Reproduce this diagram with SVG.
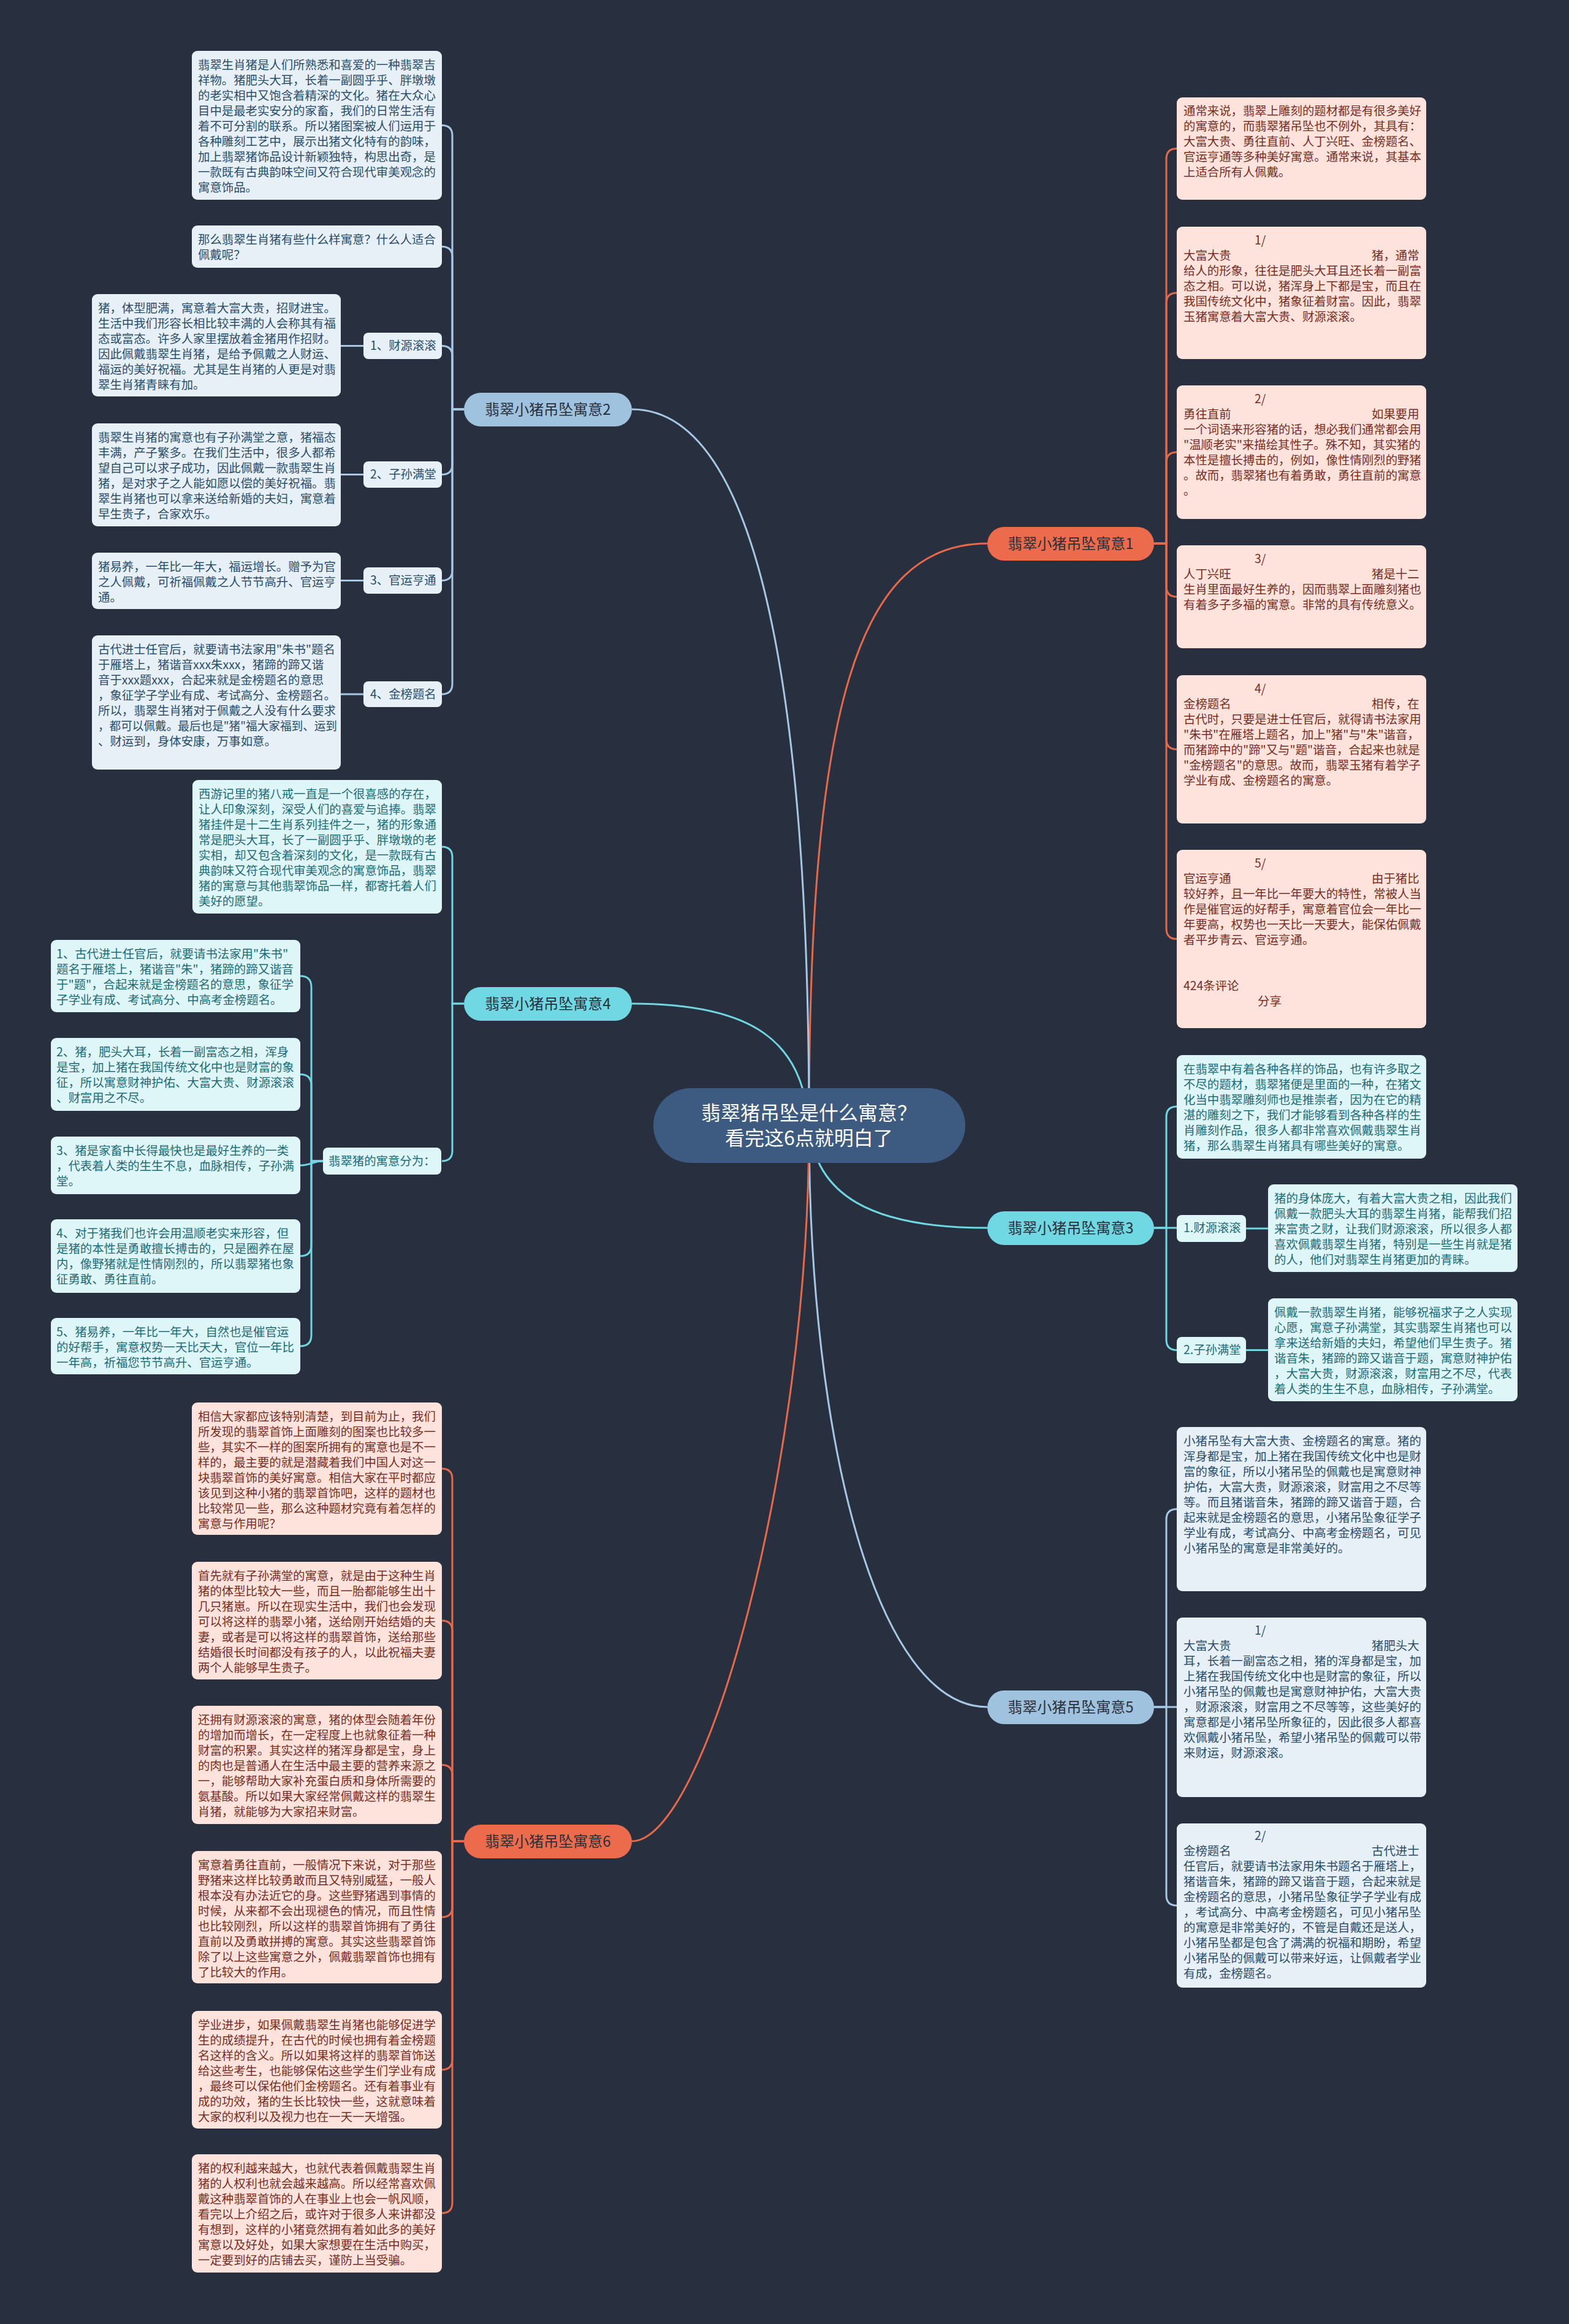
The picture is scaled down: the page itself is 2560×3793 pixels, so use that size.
<svg xmlns="http://www.w3.org/2000/svg" width="2560" height="3793" viewBox="0 0 2560 3793">
<defs>
<style>
text{font-family:"Noto Sans CJK SC","Noto Sans",sans-serif;}
.t{font-size:19.4px;}
.lo{fill:#fde3dc;}
.lc{fill:#dff6f8;}
.lb{fill:#e7f0f7;}
.to{fill:#7a2c1e;}
.tc{fill:#1d6b77;}
.tb{fill:#2a4d6b;}
.bo{fill:#ec6b4c;}
.bc{fill:#6fd8e3;}
.bb{fill:#9fc2df;}
.bt{font-size:24px;fill:#2a2f3a;text-anchor:middle;}
.co{fill:none;stroke:#e8694a;stroke-width:3;}
.cc{fill:none;stroke:#6fd6e2;stroke-width:3;}
.cb{fill:none;stroke:#a6c8e4;stroke-width:3;}
</style>
</defs>
<rect width="2560" height="3793" fill="#283040"/>

<g id="connectors">
<path class="co" d="M1320 1837 C1320 1150 1400 887 1611 887"/>
<path class="cb" d="M1320 1837 C1320 1100 1230 668 1031 668"/>
<path class="cc" d="M1320 1837 C1330 1950 1420 2004 1611 2004"/>
<path class="cc" d="M1320 1837 C1310 1700 1230 1638 1031 1638"/>
<path class="cb" d="M1320 1837 C1320 2350 1430 2786 1611 2786"/>
<path class="co" d="M1320 1837 C1320 2400 1150 3005 1031 3005"/>
<path class="cb" d="M757 668 H738 V221.5 Q738 204.5 721 204.5"/>
<path class="cb" d="M757 668 H738 V419.5 Q738 402.5 721 402.5"/>
<path class="cb" d="M757 668 H738 V581.5 Q738 564.5 721 564.5"/>
<path class="cb" d="M757 668 H738 V757.5 Q738 774.5 721 774.5"/>
<path class="cb" d="M757 668 H738 V930.5 Q738 947.5 721 947.5"/>
<path class="cb" d="M757 668 H738 V1116 Q738 1133 721 1133"/>
<path class="cb" d="M593 564.5 H556"/>
<path class="cb" d="M593 774.5 H556"/>
<path class="cb" d="M593 947.5 H556"/>
<path class="cb" d="M593 1133 H556"/>
<path class="cc" d="M757 1638 H738 V1399 Q738 1382 721 1382"/>
<path class="cc" d="M757 1638 H738 V1878 Q738 1895 721 1895"/>
<path class="cc" d="M527 1895 H508 V1611 Q508 1593 490 1593"/>
<path class="cc" d="M527 1895 H508 V1771.5 Q508 1753.5 490 1753.5"/>
<path class="cc" d="M527 1895 C510 1895 508 1902 490 1902"/>
<path class="cc" d="M527 1895 H508 V2032 Q508 2050 490 2050"/>
<path class="cc" d="M527 1895 H508 V2179 Q508 2197 490 2197"/>
<path class="co" d="M757 3005 H738 V2414 Q738 2397 721 2397"/>
<path class="co" d="M757 3005 H738 V2662 Q738 2645 721 2645"/>
<path class="co" d="M757 3005 H738 V2897.5 Q738 2880.5 721 2880.5"/>
<path class="co" d="M757 3005 H738 V3112 Q738 3129 721 3129"/>
<path class="co" d="M757 3005 H738 V3361 Q738 3378 721 3378"/>
<path class="co" d="M757 3005 H738 V3595 Q738 3612 721 3612"/>
<path class="co" d="M1883 887 H1903 V259.5 Q1903 242.5 1920 242.5"/>
<path class="co" d="M1883 887 H1903 V495 Q1903 478 1920 478"/>
<path class="co" d="M1883 887 H1903 V755 Q1903 738 1920 738"/>
<path class="co" d="M1883 887 H1903 V957 Q1903 974 1920 974"/>
<path class="co" d="M1883 887 H1903 V1206 Q1903 1223 1920 1223"/>
<path class="co" d="M1883 887 H1903 V1515.5 Q1903 1532.5 1920 1532.5"/>
<path class="cc" d="M1883 2004 H1903 V1823 Q1903 1806 1920 1806"/>
<path class="cc" d="M1883 2004 H1920"/>
<path class="cc" d="M1883 2004 H1903 V2186.5 Q1903 2203.5 1920 2203.5"/>
<path class="cc" d="M2033 2005 H2069"/>
<path class="cc" d="M2033 2203.5 H2069"/>
<path class="cb" d="M1883 2786 H1903 V2480 Q1903 2463 1920 2463"/>
<path class="cb" d="M1883 2786 H1920"/>
<path class="cb" d="M1883 2786 H1903 V3093 Q1903 3110 1920 3110"/>
</g>

<g id="center">
<rect x="1066" y="1776" width="509" height="122" rx="61" fill="#3d5a80"/>
<text x="1320" y="1828" font-size="32" fill="#ffffff" text-anchor="middle">翡翠猪吊坠是什么寓意？</text>
<text x="1320" y="1869" font-size="32" fill="#ffffff" text-anchor="middle">看完这6点就明白了</text>
</g>

<g id="b1"><rect class="bo" x="1611" y="860" width="272" height="55" rx="27.5"/><text class="bt" x="1747" y="896">翡翠小猪吊坠寓意1</text></g>
<g id="b2"><rect class="bb" x="757" y="641" width="274" height="55" rx="27.5"/><text class="bt" x="894" y="677">翡翠小猪吊坠寓意2</text></g>
<g id="b3"><rect class="bc" x="1611" y="1977" width="272" height="55" rx="27.5"/><text class="bt" x="1747" y="2013">翡翠小猪吊坠寓意3</text></g>
<g id="b4"><rect class="bc" x="757" y="1611" width="274" height="55" rx="27.5"/><text class="bt" x="894" y="1647">翡翠小猪吊坠寓意4</text></g>
<g id="b5"><rect class="bb" x="1611" y="2759" width="272" height="55" rx="27.5"/><text class="bt" x="1747" y="2795">翡翠小猪吊坠寓意5</text></g>
<g id="b6"><rect class="bo" x="757" y="2978" width="274" height="55" rx="27.5"/><text class="bt" x="894" y="3014">翡翠小猪吊坠寓意6</text></g>

<g id="n2a"><rect class="lb" x="313" y="83" width="408" height="243" rx="9"/>
<text class="t tb" x="323" y="113"><tspan x="323">翡翠生肖猪是人们所熟悉和喜爱的一种翡翠吉</tspan><tspan x="323" dy="25">祥物。猪肥头大耳，长着一副圆乎乎、胖墩墩</tspan><tspan x="323" dy="25">的老实相中又饱含着精深的文化。猪在大众心</tspan><tspan x="323" dy="25">目中是最老实安分的家畜，我们的日常生活有</tspan><tspan x="323" dy="25">着不可分割的联系。所以猪图案被人们运用于</tspan><tspan x="323" dy="25">各种雕刻工艺中，展示出猪文化特有的韵味，</tspan><tspan x="323" dy="25">加上翡翠猪饰品设计新颖独特，构思出奇，是</tspan><tspan x="323" dy="25">一款既有古典韵味空间又符合现代审美观念的</tspan><tspan x="323" dy="25">寓意饰品。</tspan></text></g>
<g id="n2b"><rect class="lb" x="313" y="368" width="408" height="69" rx="9"/>
<text class="t tb" x="323" y="398"><tspan x="323">那么翡翠生肖猪有些什么样寓意？什么人适合</tspan><tspan x="323" dy="25">佩戴呢？</tspan></text></g>
<g id="n2c"><rect class="lb" x="593" y="543" width="128" height="43" rx="8"/><text class="t tb" x="604" y="571">1、财源滚滚</text></g>
<g id="n2c1"><rect class="lb" x="150" y="480" width="406" height="167" rx="9"/>
<text class="t tb" x="160" y="510"><tspan x="160">猪，体型肥满，寓意着大富大贵，招财进宝。</tspan><tspan x="160" dy="25">生活中我们形容长相比较丰满的人会称其有福</tspan><tspan x="160" dy="25">态或富态。许多人家里摆放着金猪用作招财。</tspan><tspan x="160" dy="25">因此佩戴翡翠生肖猪，是给予佩戴之人财运、</tspan><tspan x="160" dy="25">福运的美好祝福。尤其是生肖猪的人更是对翡</tspan><tspan x="160" dy="25">翠生肖猪青睐有加。</tspan></text></g>
<g id="n2d"><rect class="lb" x="593" y="753" width="128" height="43" rx="8"/><text class="t tb" x="604" y="781">2、子孙满堂</text></g>
<g id="n2d1"><rect class="lb" x="150" y="691" width="406" height="168" rx="9"/>
<text class="t tb" x="160" y="721"><tspan x="160">翡翠生肖猪的寓意也有子孙满堂之意，猪福态</tspan><tspan x="160" dy="25">丰满，产子繁多。在我们生活中，很多人都希</tspan><tspan x="160" dy="25">望自己可以求子成功，因此佩戴一款翡翠生肖</tspan><tspan x="160" dy="25">猪，是对求子之人能如愿以偿的美好祝福。翡</tspan><tspan x="160" dy="25">翠生肖猪也可以拿来送给新婚的夫妇，寓意着</tspan><tspan x="160" dy="25">早生贵子，合家欢乐。</tspan></text></g>
<g id="n2e"><rect class="lb" x="593" y="926" width="128" height="43" rx="8"/><text class="t tb" x="604" y="954">3、官运亨通</text></g>
<g id="n2e1"><rect class="lb" x="150" y="902" width="406" height="92" rx="9"/>
<text class="t tb" x="160" y="932"><tspan x="160">猪易养，一年比一年大，福运增长。赠予为官</tspan><tspan x="160" dy="25">之人佩戴，可祈福佩戴之人节节高升、官运亨</tspan><tspan x="160" dy="25">通。</tspan></text></g>
<g id="n2f"><rect class="lb" x="593" y="1112" width="128" height="42" rx="8"/><text class="t tb" x="604" y="1140">4、金榜题名</text></g>
<g id="n2f1"><rect class="lb" x="150" y="1037" width="406" height="219" rx="9"/>
<text class="t tb" x="160" y="1067"><tspan x="160">古代进士任官后，就要请书法家用"朱书"题名</tspan><tspan x="160" dy="25">于雁塔上，猪谐音xxx朱xxx，猪蹄的蹄又谐</tspan><tspan x="160" dy="25">音于xxx题xxx，合起来就是金榜题名的意思</tspan><tspan x="160" dy="25">，象征学子学业有成、考试高分、金榜题名。</tspan><tspan x="160" dy="25" textLength="388" lengthAdjust="spacingAndGlyphs">所以，翡翠生肖猪对于佩戴之人没有什么要求</tspan><tspan x="160" dy="25" textLength="390" lengthAdjust="spacingAndGlyphs">，都可以佩戴。最后也是"猪"福大家福到、运到</tspan><tspan x="160" dy="25">、财运到，身体安康，万事如意。</tspan></text></g>

<g id="n4a"><rect class="lc" x="314" y="1273" width="407" height="218" rx="9"/>
<text class="t tc" x="324" y="1303"><tspan x="324">西游记里的猪八戒一直是一个很喜感的存在，</tspan><tspan x="324" dy="25">让人印象深刻，深受人们的喜爱与追捧。翡翠</tspan><tspan x="324" dy="25">猪挂件是十二生肖系列挂件之一，猪的形象通</tspan><tspan x="324" dy="25">常是肥头大耳，长了一副圆乎乎、胖墩墩的老</tspan><tspan x="324" dy="25">实相，却又包含着深刻的文化，是一款既有古</tspan><tspan x="324" dy="25">典韵味又符合现代审美观念的寓意饰品，翡翠</tspan><tspan x="324" dy="25">猪的寓意与其他翡翠饰品一样，都寄托着人们</tspan><tspan x="324" dy="25">美好的愿望。</tspan></text></g>
<g id="n4b"><rect class="lc" x="527" y="1873" width="193" height="44" rx="8"/><text class="t tc" x="536" y="1902">翡翠猪的寓意分为：</text></g>
<g id="n4b1"><rect class="lc" x="83" y="1534" width="407" height="118" rx="9"/>
<text class="t tc" x="92" y="1564"><tspan x="92">1、古代进士任官后，就要请书法家用"朱书"</tspan><tspan x="92" dy="25">题名于雁塔上，猪谐音"朱"，猪蹄的蹄又谐音</tspan><tspan x="92" dy="25">于"题"，合起来就是金榜题名的意思，象征学</tspan><tspan x="92" dy="25">子学业有成、考试高分、中高考金榜题名。</tspan></text></g>
<g id="n4b2"><rect class="lc" x="83" y="1694" width="407" height="119" rx="9"/>
<text class="t tc" x="92" y="1724"><tspan x="92">2、猪，肥头大耳，长着一副富态之相，浑身</tspan><tspan x="92" dy="25">是宝，加上猪在我国传统文化中也是财富的象</tspan><tspan x="92" dy="25">征，所以寓意财神护佑、大富大贵、财源滚滚</tspan><tspan x="92" dy="25">、财富用之不尽。</tspan></text></g>
<g id="n4b3"><rect class="lc" x="83" y="1855" width="407" height="94" rx="9"/>
<text class="t tc" x="92" y="1885"><tspan x="92">3、猪是家畜中长得最快也是最好生养的一类</tspan><tspan x="92" dy="25">，代表着人类的生生不息，血脉相传，子孙满</tspan><tspan x="92" dy="25">堂。</tspan></text></g>
<g id="n4b4"><rect class="lc" x="83" y="1990" width="407" height="120" rx="9"/>
<text class="t tc" x="92" y="2020"><tspan x="92">4、对于猪我们也许会用温顺老实来形容，但</tspan><tspan x="92" dy="25">是猪的本性是勇敢擅长搏击的，只是圈养在屋</tspan><tspan x="92" dy="25">内，像野猪就是性情刚烈的，所以翡翠猪也象</tspan><tspan x="92" dy="25">征勇敢、勇往直前。</tspan></text></g>
<g id="n4b5"><rect class="lc" x="83" y="2151" width="407" height="92" rx="9"/>
<text class="t tc" x="92" y="2181"><tspan x="92">5、猪易养，一年比一年大，自然也是催官运</tspan><tspan x="92" dy="25">的好帮手，寓意权势一天比天大，官位一年比</tspan><tspan x="92" dy="25">一年高，祈福您节节高升、官运亨通。</tspan></text></g>

<g id="n6a"><rect class="lo" x="313" y="2289" width="408" height="216" rx="9"/>
<text class="t to" x="323" y="2319"><tspan x="323">相信大家都应该特别清楚，到目前为止，我们</tspan><tspan x="323" dy="25">所发现的翡翠首饰上面雕刻的图案也比较多一</tspan><tspan x="323" dy="25">些，其实不一样的图案所拥有的寓意也是不一</tspan><tspan x="323" dy="25">样的，最主要的就是潜藏着我们中国人对这一</tspan><tspan x="323" dy="25">块翡翠首饰的美好寓意。相信大家在平时都应</tspan><tspan x="323" dy="25">该见到这种小猪的翡翠首饰吧，这样的题材也</tspan><tspan x="323" dy="25">比较常见一些，那么这种题材究竟有着怎样的</tspan><tspan x="323" dy="25">寓意与作用呢？</tspan></text></g>
<g id="n6b"><rect class="lo" x="313" y="2549" width="408" height="192" rx="9"/>
<text class="t to" x="323" y="2579"><tspan x="323">首先就有子孙满堂的寓意，就是由于这种生肖</tspan><tspan x="323" dy="25">猪的体型比较大一些，而且一胎都能够生出十</tspan><tspan x="323" dy="25">几只猪崽。所以在现实生活中，我们也会发现</tspan><tspan x="323" dy="25">可以将这样的翡翠小猪，送给刚开始结婚的夫</tspan><tspan x="323" dy="25">妻，或者是可以将这样的翡翠首饰，送给那些</tspan><tspan x="323" dy="25">结婚很长时间都没有孩子的人，以此祝福夫妻</tspan><tspan x="323" dy="25">两个人能够早生贵子。</tspan></text></g>
<g id="n6c"><rect class="lo" x="313" y="2784" width="408" height="193" rx="9"/>
<text class="t to" x="323" y="2814"><tspan x="323">还拥有财源滚滚的寓意，猪的体型会随着年份</tspan><tspan x="323" dy="25">的增加而增长，在一定程度上也就象征着一种</tspan><tspan x="323" dy="25">财富的积累。其实这样的猪浑身都是宝，身上</tspan><tspan x="323" dy="25">的肉也是普通人在生活中最主要的营养来源之</tspan><tspan x="323" dy="25">一，能够帮助大家补充蛋白质和身体所需要的</tspan><tspan x="323" dy="25">氨基酸。所以如果大家经常佩戴这样的翡翠生</tspan><tspan x="323" dy="25">肖猪，就能够为大家招来财富。</tspan></text></g>
<g id="n6d"><rect class="lo" x="313" y="3021" width="408" height="216" rx="9"/>
<text class="t to" x="323" y="3051"><tspan x="323">寓意着勇往直前，一般情况下来说，对于那些</tspan><tspan x="323" dy="25">野猪来这样比较勇敢而且又特别威猛，一般人</tspan><tspan x="323" dy="25">根本没有办法近它的身。这些野猪遇到事情的</tspan><tspan x="323" dy="25">时候，从来都不会出现褪色的情况，而且性情</tspan><tspan x="323" dy="25">也比较刚烈，所以这样的翡翠首饰拥有了勇往</tspan><tspan x="323" dy="25">直前以及勇敢拼搏的寓意。其实这些翡翠首饰</tspan><tspan x="323" dy="25">除了以上这些寓意之外，佩戴翡翠首饰也拥有</tspan><tspan x="323" dy="25">了比较大的作用。</tspan></text></g>
<g id="n6e"><rect class="lo" x="313" y="3282" width="408" height="192" rx="9"/>
<text class="t to" x="323" y="3312"><tspan x="323">学业进步，如果佩戴翡翠生肖猪也能够促进学</tspan><tspan x="323" dy="25">生的成绩提升，在古代的时候也拥有着金榜题</tspan><tspan x="323" dy="25">名这样的含义。所以如果将这样的翡翠首饰送</tspan><tspan x="323" dy="25">给这些考生，也能够保佑这些学生们学业有成</tspan><tspan x="323" dy="25">，最终可以保佑他们金榜题名。还有着事业有</tspan><tspan x="323" dy="25">成的功效，猪的生长比较快一些，这就意味着</tspan><tspan x="323" dy="25">大家的权利以及视力也在一天一天增强。</tspan></text></g>
<g id="n6f"><rect class="lo" x="313" y="3516" width="408" height="193" rx="9"/>
<text class="t to" x="323" y="3546"><tspan x="323">猪的权利越来越大，也就代表着佩戴翡翠生肖</tspan><tspan x="323" dy="25">猪的人权利也就会越来越高。所以经常喜欢佩</tspan><tspan x="323" dy="25">戴这种翡翠首饰的人在事业上也会一帆风顺，</tspan><tspan x="323" dy="25">看完以上介绍之后，或许对于很多人来讲都没</tspan><tspan x="323" dy="25">有想到，这样的小猪竟然拥有着如此多的美好</tspan><tspan x="323" dy="25">寓意以及好处，如果大家想要在生活中购买，</tspan><tspan x="323" dy="25">一定要到好的店铺去买，谨防上当受骗。</tspan></text></g>

<g id="n1a"><rect class="lo" x="1920" y="159" width="407" height="167" rx="9"/>
<text class="t to" x="1931" y="188"><tspan x="1931">通常来说，翡翠上雕刻的题材都是有很多美好</tspan><tspan x="1931" dy="25">的寓意的，而翡翠猪吊坠也不例外，其具有：</tspan><tspan x="1931" dy="25">大富大贵、勇往直前、人丁兴旺、金榜题名、</tspan><tspan x="1931" dy="25">官运亨通等多种美好寓意。通常来说，其基本</tspan><tspan x="1931" dy="25">上适合所有人佩戴。</tspan></text></g>
<g id="n1b"><rect class="lo" x="1920" y="370" width="407" height="216" rx="9"/>
<text class="t to" x="2047" y="399"><tspan x="2047">1/</tspan><tspan x="1931" dy="25">大富大贵</tspan><tspan x="2238" dy="0">猪，通常</tspan><tspan x="1931" dy="25">给人的形象，往往是肥头大耳且还长着一副富</tspan><tspan x="1931" dy="25">态之相。可以说，猪浑身上下都是宝，而且在</tspan><tspan x="1931" dy="25">我国传统文化中，猪象征着财富。因此，翡翠</tspan><tspan x="1931" dy="25">玉猪寓意着大富大贵、财源滚滚。</tspan></text></g>
<g id="n1c"><rect class="lo" x="1920" y="629" width="407" height="218" rx="9"/>
<text class="t to" x="2047" y="658"><tspan x="2047">2/</tspan><tspan x="1931" dy="25">勇往直前</tspan><tspan x="2238" dy="0">如果要用</tspan><tspan x="1931" dy="25">一个词语来形容猪的话，想必我们通常都会用</tspan><tspan x="1931" dy="25">"温顺老实"来描绘其性子。殊不知，其实猪的</tspan><tspan x="1931" dy="25">本性是擅长搏击的，例如，像性情刚烈的野猪</tspan><tspan x="1931" dy="25">。故而，翡翠猪也有着勇敢，勇往直前的寓意</tspan><tspan x="1931" dy="25">。</tspan></text></g>
<g id="n1d"><rect class="lo" x="1920" y="890" width="407" height="168" rx="9"/>
<text class="t to" x="2047" y="919"><tspan x="2047">3/</tspan><tspan x="1931" dy="25">人丁兴旺</tspan><tspan x="2238" dy="0">猪是十二</tspan><tspan x="1931" dy="25">生肖里面最好生养的，因而翡翠上面雕刻猪也</tspan><tspan x="1931" dy="25">有着多子多福的寓意。非常的具有传统意义。</tspan></text></g>
<g id="n1e"><rect class="lo" x="1920" y="1102" width="407" height="242" rx="9"/>
<text class="t to" x="2047" y="1131"><tspan x="2047">4/</tspan><tspan x="1931" dy="25">金榜题名</tspan><tspan x="2238" dy="0">相传，在</tspan><tspan x="1931" dy="25">古代时，只要是进士任官后，就得请书法家用</tspan><tspan x="1931" dy="25">"朱书"在雁塔上题名，加上"猪"与"朱"谐音，</tspan><tspan x="1931" dy="25">而猪蹄中的"蹄"又与"题"谐音，合起来也就是</tspan><tspan x="1931" dy="25">"金榜题名"的意思。故而，翡翠玉猪有着学子</tspan><tspan x="1931" dy="25">学业有成、金榜题名的寓意。</tspan></text></g>
<g id="n1f"><rect class="lo" x="1920" y="1387" width="407" height="291" rx="9"/>
<text class="t to" x="2047" y="1416"><tspan x="2047">5/</tspan><tspan x="1931" dy="25">官运亨通</tspan><tspan x="2238" dy="0">由于猪比</tspan><tspan x="1931" dy="25">较好养，且一年比一年要大的特性，常被人当</tspan><tspan x="1931" dy="25">作是催官运的好帮手，寓意着官位会一年比一</tspan><tspan x="1931" dy="25">年要高，权势也一天比一天要大，能保佑佩戴</tspan><tspan x="1931" dy="25">者平步青云、官运亨通。</tspan><tspan x="1931" dy="75">424条评论</tspan><tspan x="2052" dy="25">分享</tspan></text></g>

<g id="n3a"><rect class="lc" x="1920" y="1722" width="407" height="169" rx="9"/>
<text class="t tc" x="1931" y="1752"><tspan x="1931">在翡翠中有着各种各样的饰品，也有许多取之</tspan><tspan x="1931" dy="25">不尽的题材，翡翠猪便是里面的一种，在猪文</tspan><tspan x="1931" dy="25">化当中翡翠雕刻师也是推崇者，因为在它的精</tspan><tspan x="1931" dy="25">湛的雕刻之下，我们才能够看到各种各样的生</tspan><tspan x="1931" dy="25">肖雕刻作品，很多人都非常喜欢佩戴翡翠生肖</tspan><tspan x="1931" dy="25">猪，那么翡翠生肖猪具有哪些美好的寓意。</tspan></text></g>
<g id="n3b"><rect class="lc" x="1920" y="1983" width="113" height="44" rx="8"/><text class="t tc" x="1931" y="2011">1.财源滚滚</text></g>
<g id="n3b1"><rect class="lc" x="2069" y="1933" width="407" height="143" rx="9"/>
<text class="t tc" x="2079" y="1963"><tspan x="2079">猪的身体庞大，有着大富大贵之相，因此我们</tspan><tspan x="2079" dy="25">佩戴一款肥头大耳的翡翠生肖猪，能帮我们招</tspan><tspan x="2079" dy="25">来富贵之财，让我们财源滚滚，所以很多人都</tspan><tspan x="2079" dy="25">喜欢佩戴翡翠生肖猪，特别是一些生肖就是猪</tspan><tspan x="2079" dy="25">的人，他们对翡翠生肖猪更加的青睐。</tspan></text></g>
<g id="n3c"><rect class="lc" x="1920" y="2182" width="113" height="43" rx="8"/><text class="t tc" x="1931" y="2210">2.子孙满堂</text></g>
<g id="n3c1"><rect class="lc" x="2069" y="2119" width="407" height="168" rx="9"/>
<text class="t tc" x="2079" y="2149"><tspan x="2079">佩戴一款翡翠生肖猪，能够祝福求子之人实现</tspan><tspan x="2079" dy="25">心愿，寓意子孙满堂，其实翡翠生肖猪也可以</tspan><tspan x="2079" dy="25">拿来送给新婚的夫妇，希望他们早生贵子。猪</tspan><tspan x="2079" dy="25">谐音朱，猪蹄的蹄又谐音于题，寓意财神护佑</tspan><tspan x="2079" dy="25">，大富大贵，财源滚滚，财富用之不尽，代表</tspan><tspan x="2079" dy="25">着人类的生生不息，血脉相传，子孙满堂。</tspan></text></g>

<g id="n5a"><rect class="lb" x="1920" y="2329" width="407" height="268" rx="9"/>
<text class="t tb" x="1931" y="2359"><tspan x="1931">小猪吊坠有大富大贵、金榜题名的寓意。猪的</tspan><tspan x="1931" dy="25">浑身都是宝，加上猪在我国传统文化中也是财</tspan><tspan x="1931" dy="25">富的象征，所以小猪吊坠的佩戴也是寓意财神</tspan><tspan x="1931" dy="25">护佑，大富大贵，财源滚滚，财富用之不尽等</tspan><tspan x="1931" dy="25">等。而且猪谐音朱，猪蹄的蹄又谐音于题，合</tspan><tspan x="1931" dy="25">起来就是金榜题名的意思，小猪吊坠象征学子</tspan><tspan x="1931" dy="25">学业有成，考试高分、中高考金榜题名，可见</tspan><tspan x="1931" dy="25">小猪吊坠的寓意是非常美好的。</tspan></text></g>
<g id="n5b"><rect class="lb" x="1920" y="2640" width="407" height="293" rx="9"/>
<text class="t tb" x="2047" y="2668"><tspan x="2047">1/</tspan><tspan x="1931" dy="25">大富大贵</tspan><tspan x="2238" dy="0">猪肥头大</tspan><tspan x="1931" dy="25">耳，长着一副富态之相，猪的浑身都是宝，加</tspan><tspan x="1931" dy="25">上猪在我国传统文化中也是财富的象征，所以</tspan><tspan x="1931" dy="25">小猪吊坠的佩戴也是寓意财神护佑，大富大贵</tspan><tspan x="1931" dy="25">，财源滚滚，财富用之不尽等等，这些美好的</tspan><tspan x="1931" dy="25">寓意都是小猪吊坠所象征的，因此很多人都喜</tspan><tspan x="1931" dy="25">欢佩戴小猪吊坠，希望小猪吊坠的佩戴可以带</tspan><tspan x="1931" dy="25">来财运，财源滚滚。</tspan></text></g>
<g id="n5c"><rect class="lb" x="1920" y="2976" width="407" height="268" rx="9"/>
<text class="t tb" x="2047" y="3003"><tspan x="2047">2/</tspan><tspan x="1931" dy="25">金榜题名</tspan><tspan x="2238" dy="0">古代进士</tspan><tspan x="1931" dy="25">任官后，就要请书法家用朱书题名于雁塔上，</tspan><tspan x="1931" dy="25">猪谐音朱，猪蹄的蹄又谐音于题，合起来就是</tspan><tspan x="1931" dy="25">金榜题名的意思，小猪吊坠象征学子学业有成</tspan><tspan x="1931" dy="25">，考试高分、中高考金榜题名，可见小猪吊坠</tspan><tspan x="1931" dy="25">的寓意是非常美好的，不管是自戴还是送人，</tspan><tspan x="1931" dy="25">小猪吊坠都是包含了满满的祝福和期盼，希望</tspan><tspan x="1931" dy="25">小猪吊坠的佩戴可以带来好运，让佩戴者学业</tspan><tspan x="1931" dy="25">有成，金榜题名。</tspan></text></g>
</svg>
